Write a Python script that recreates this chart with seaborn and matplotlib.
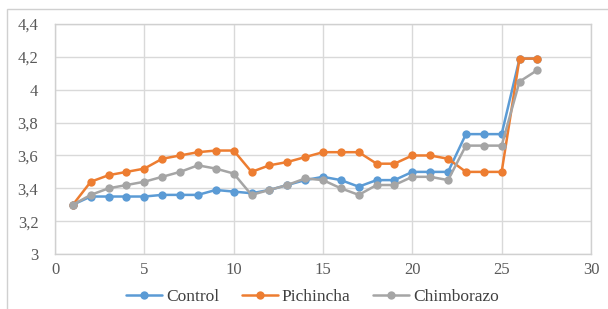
import pandas as pd
import matplotlib.pyplot as plt
import seaborn as sns
from matplotlib.patches import Rectangle
from matplotlib.ticker import FuncFormatter

# data
x = list(range(1, 28))
control = [3.30, 3.35, 3.35, 3.35, 3.35, 3.36, 3.36, 3.36, 3.39, 3.38,
           3.37, 3.39, 3.42, 3.45, 3.47, 3.45, 3.41, 3.45, 3.45, 3.50,
           3.50, 3.50, 3.73, 3.73, 3.73, 4.19, 4.19]
pichincha = [3.30, 3.44, 3.48, 3.50, 3.52, 3.58, 3.60, 3.62, 3.63, 3.63,
             3.50, 3.54, 3.56, 3.59, 3.62, 3.62, 3.62, 3.55, 3.55, 3.60,
             3.60, 3.58, 3.50, 3.50, 3.50, 4.19, 4.19]
chimborazo = [3.30, 3.36, 3.40, 3.42, 3.44, 3.47, 3.50, 3.54, 3.52, 3.49,
              3.36, 3.39, 3.42, 3.46, 3.45, 3.40, 3.36, 3.42, 3.42, 3.47,
              3.47, 3.45, 3.66, 3.66, 3.66, 4.05, 4.12]
series = ['Control', 'Pichincha', 'Chimborazo']
colors = ['#5B9BD5', '#ED7D31', '#A5A5A5']

df = pd.concat([
    pd.DataFrame({'x': x, 'y': vals, 'serie': name})
    for name, vals in zip(series, [control, pichincha, chimborazo])
])

sns.set_style('white')
plt.rcParams['font.family'] = ['Liberation Serif', 'DejaVu Serif']

fig = plt.figure(figsize=(6.08, 3.09), dpi=100)
ax = fig.add_axes([0.0905, 0.178, 0.8815, 0.744])

sns.lineplot(data=df, x='x', y='y', hue='serie', hue_order=series,
             palette=colors, marker='o', markersize=6, markeredgewidth=0,
             linewidth=1.8, dashes=False, ax=ax)

ax.set_xlim(0, 30)
ax.set_ylim(3, 4.4)
ax.set_xticks(range(0, 31, 5))
ax.set_yticks([3 + 0.2 * i for i in range(8)])
ax.yaxis.set_major_formatter(FuncFormatter(
    lambda v, p: ('%g' % round(v, 1)).replace('.', ',')))
ax.grid(True, color='#D9D9D9', linewidth=1)
ax.set_axisbelow(True)
for s in ax.spines.values():
    s.set_color('#D0D0D0')
    s.set_linewidth(1)
ax.tick_params(length=0, labelsize=12, colors='#595959')
ax.tick_params(axis='y', pad=12)
ax.tick_params(axis='x', pad=6)
for lab in ax.get_xticklabels() + ax.get_yticklabels():
    lab.set_family('Liberation Serif')
ax.set_xlabel('')
ax.set_ylabel('')

ax.legend(loc='center', bbox_to_anchor=(0.48, -0.185), ncol=3,
          frameon=False, prop={'family': 'Liberation Serif', 'size': 12.5},
          handlelength=2.1, columnspacing=1.3, handletextpad=0.2,
          labelcolor='#404040', borderaxespad=0)

# outer frame partially visible in the reference
fig.patches.append(Rectangle((7 / 608, -0.2), 1.2, 1 - 9 / 309 + 0.2,
                             transform=fig.transFigure, fill=False,
                             edgecolor='#D0D0D0', linewidth=1))

fig.savefig('out.png', dpi=100)
